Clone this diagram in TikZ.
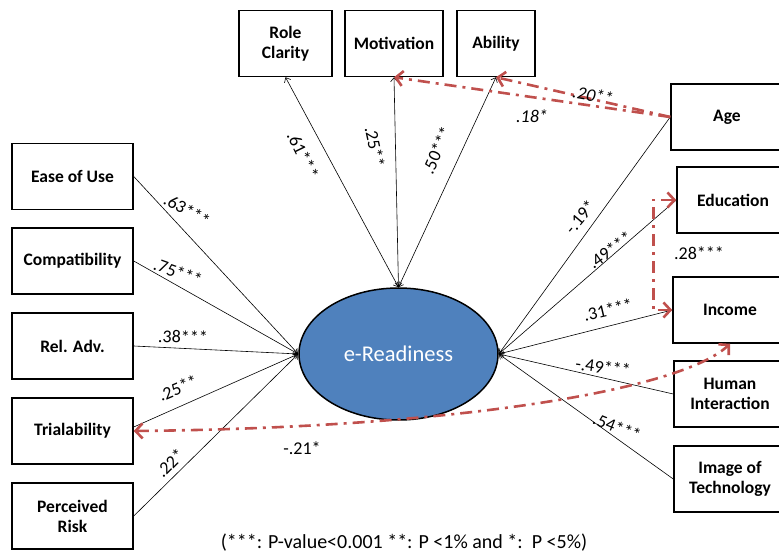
\documentclass[tikz,border=0pt]{standalone}
\usepackage{fontspec}
\setmainfont{Carlito}
\usetikzlibrary{arrows.meta,shapes.geometric}
\definecolor{erblue}{HTML}{4F81BD}
\definecolor{erred}{HTML}{C0504D}
\begin{document}
\begin{tikzpicture}[x=1pt,y=-1pt,
  box/.style={draw,line width=1.5pt,align=center,inner sep=0pt,minimum height=66pt,font=\fontsize{17.5}{20}\selectfont\bfseries},
  coef/.style={inner sep=0pt,font=\fontsize{18}{20}\selectfont},
  link/.style={draw,line width=0.6pt,>={Straight Barb[length=4pt,width=7pt]}},
  rlink/.style={draw,erred,line width=2.6pt,dash pattern=on 12pt off 6pt on 3pt off 6pt,>={Straight Barb[length=7pt,width=15pt]}}]
\useasboundingbox (0,0) rectangle (779,553);

\node[box,minimum width=93pt] (rc) at (285.5,43.5) {Role\\Clarity};
\node[box,minimum width=98pt] (mot) at (394,43.5) {Motivation};
\node[box,minimum width=78pt] (abi) at (496,43.5) {Ability};

\node[box,minimum width=121pt] (eou) at (72.5,176.5) {Ease of Use};
\node[box,minimum width=121pt] (cmp) at (72.5,261) {Compatibility};
\node[box,minimum width=121pt] (rel) at (72.5,346) {Rel. Adv.};
\node[box,minimum width=121pt] (tri) at (72.5,431) {Trialability};
\node[box,minimum width=121pt] (per) at (72.5,516) {Perceived\\Risk};

\node[box,minimum width=112pt] (age) at (727,117) {Age};
\node[box,minimum width=112pt] (edu) at (733,200) {Education};
\node[box,minimum width=114pt] (inc) at (730,310) {Income};
\node[box,minimum width=112pt] (hum) at (730,394) {Human\\Interaction};
\node[box,minimum width=112pt] (img) at (730,479) {Image of\\Technology};

\node[draw,ellipse,fill=erblue,line width=1.5pt,minimum width=199pt,minimum height=132pt,text=white,font=\fontsize{22.5}{26}\selectfont] (er) at (398.5,354) {e-Readiness};

\path[link,<->] (er.north) -- (rc.south);
\path[link,<->] (er.north) -- (mot.south);
\path[link,<->] (er.north) -- (abi.south);
\path[link,->] (eou.east) -- (er.west);
\path[link,->] (cmp.east) -- (er.west);
\path[link,->] (rel.east) -- (er.west);
\path[link,->] (tri.east) ++(0,-4) -- (er.west);
\path[link,->] (per.east) -- (er.west);
\path[link,->] (age.west) -- (er.east);
\path[link,->] (edu.west) -- (er.east);
\path[link,->] (inc.west) -- (er.east);
\path[link,->] (hum.west) -- (er.east);
\path[link,->] (img.west) -- (er.east);

\path[rlink,->] (age.west) -- (mot.south);
\path[rlink,->] (age.west) -- (abi.south);
\path[rlink,<->] (edu.west) -- ++(-23,0) |- (inc.west);
\path[rlink,<->] (tri.east) .. controls +(317,-3) and +(-50,47) .. (inc.south);

\node[coef,rotate=-64] (c61) at (303,155) {.61***};
\node[coef,rotate=-78] (c25a) at (375,147) {.25**};
\node[coef,rotate=66] (c50) at (437,150) {.50***};
\node[coef,rotate=-10,font=\fontsize{18}{20}\selectfont\itshape] (c20) at (593,95) {.20**};
\node[coef,font=\fontsize{18}{20}\selectfont\itshape] (c18) at (532,116) {.18*};
\node[coef,rotate=50] (c19) at (580,217) {-.19*};
\node[coef,rotate=36] (c49) at (610,250) {.49***};
\node[coef,rotate=13] (c31) at (608,310) {.31***};
\node[coef,anchor=west] (c28) at (674,253) {.28***};
\node[coef,rotate=-8] (cm49) at (603,367) {-.49***};
\node[coef,rotate=-22] (c54) at (617,427) {.54***};
\node[coef,rotate=-30] (c63) at (187,210) {.63***};
\node[coef,rotate=-20] (c75) at (178,272) {.75***};
\node[coef,rotate=-2] (c38) at (183,337) {.38***};
\node[coef,rotate=23] (c25b) at (178,388) {.25**};
\node[coef,rotate=45] (c22) at (170,463) {.22*};
\node[coef] (c21) at (302,448) {-.21*};

\node[coef,font=\fontsize{20}{22}\selectfont] (note) at (404,543) {(***: P-value<0.001 **: P <1\% and *:\ \ P <5\%)};
\end{tikzpicture}
\end{document}
